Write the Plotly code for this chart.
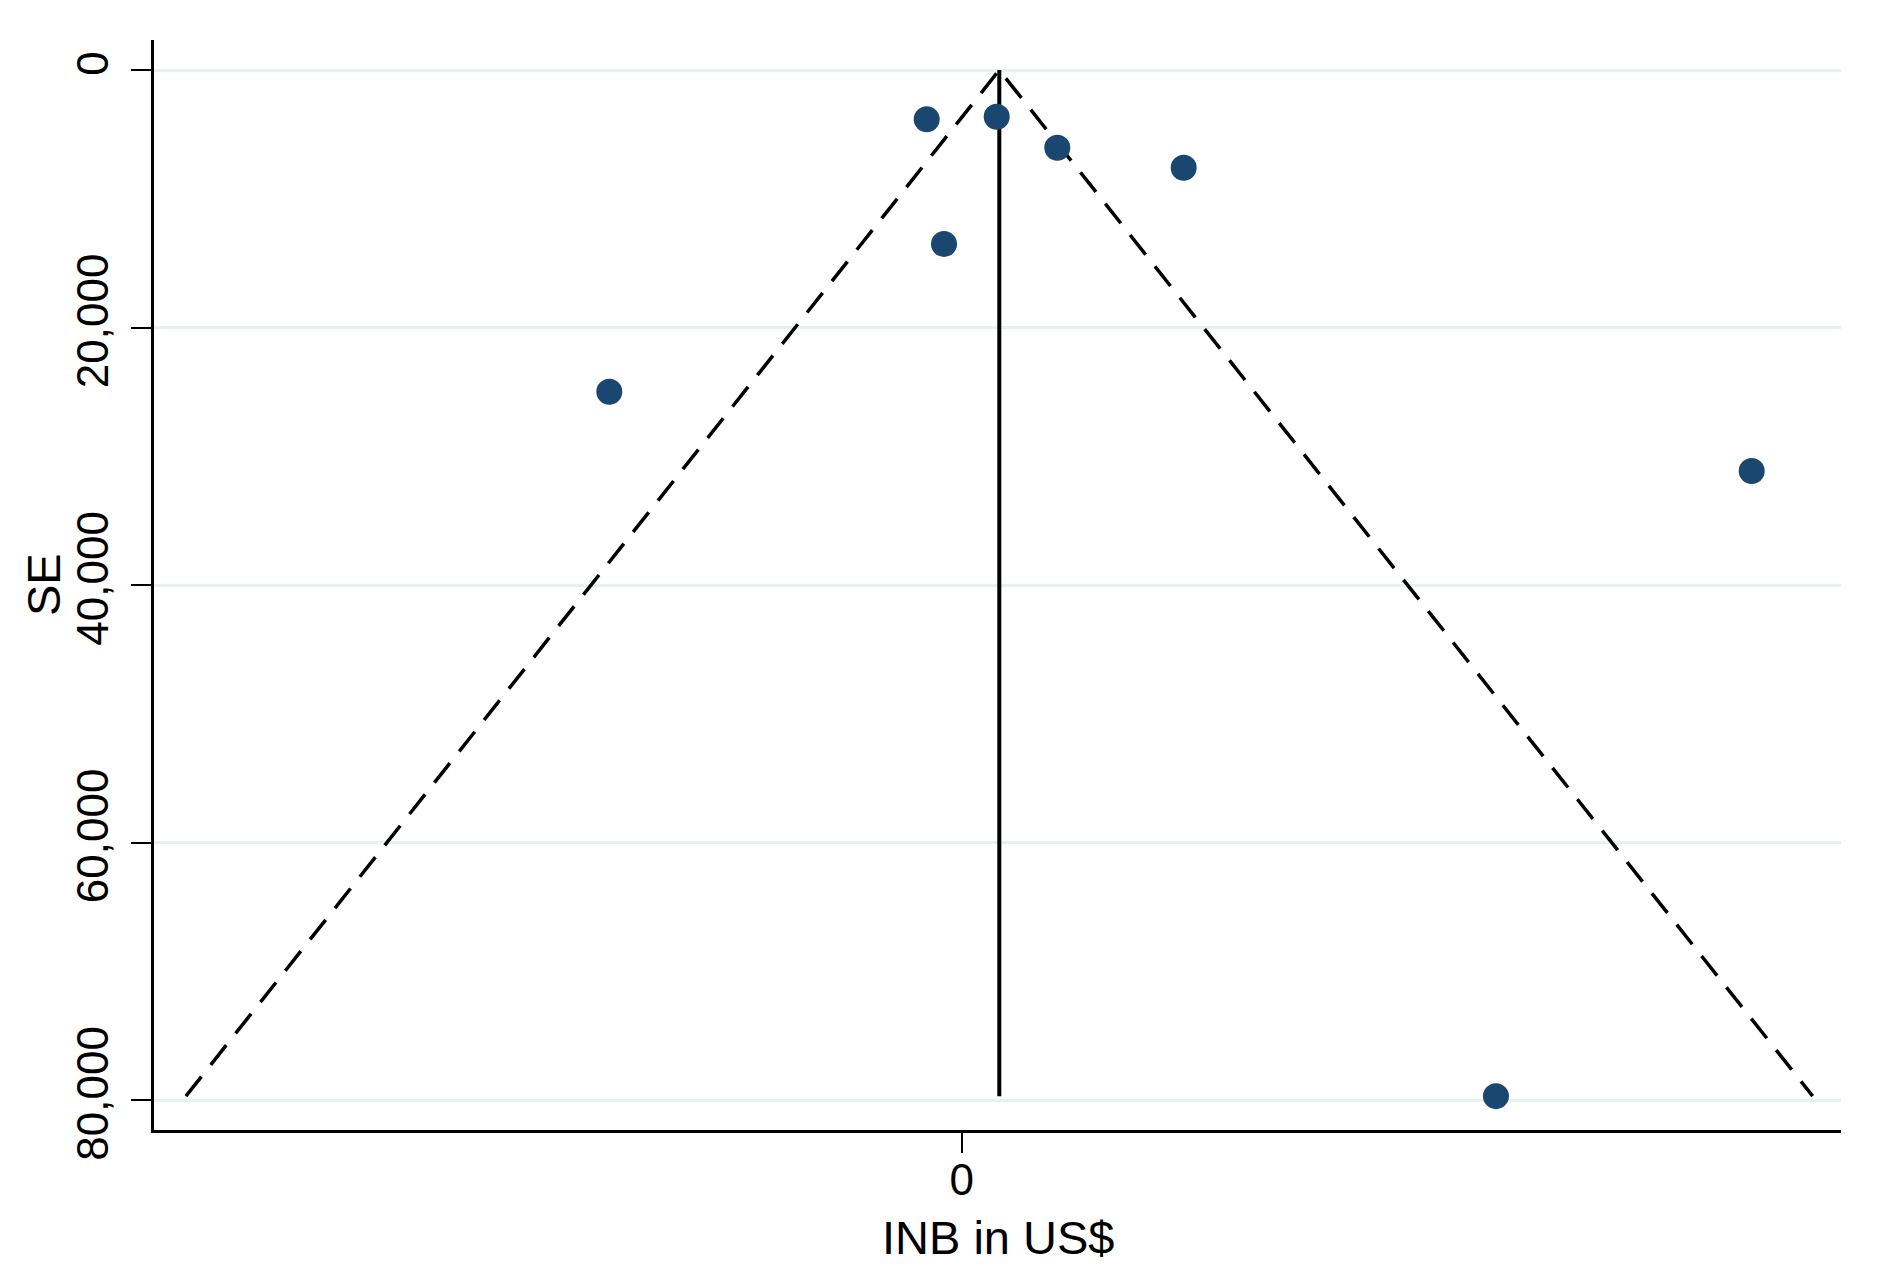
import plotly.graph_objects as go

# study estimates
inb = [-6720, 6720, 18360, 42630, -3400, -67680, 151720, 102600]
se = [3830, 3630, 6035, 7590, 13515, 24990, 31150, 79700]

pooled = 7220
se_max = max(se)
z = 1.96

y_ticks = [0, 20000, 40000, 60000, 80000]
y_labels = ["0", "20,000", "40,000", "60,000", "80,000"]

NAVY = "#1A476F"
GRID = "#E8F0F2"
FONT = "Liberation Sans, Arial, sans-serif"

fig = go.Figure()

# pseudo 95% limits
fig.add_trace(
    go.Scatter(
        x=[pooled - z * se_max, pooled, pooled + z * se_max],
        y=[se_max, 0, se_max],
        mode="lines",
        line=dict(color="black", width=3.5, dash="25px,15px"),
        hoverinfo="skip",
    )
)
# pooled estimate
fig.add_trace(
    go.Scatter(
        x=[pooled, pooled],
        y=[0, se_max],
        mode="lines",
        line=dict(color="black", width=4),
        hoverinfo="skip",
    )
)
fig.add_trace(
    go.Scatter(
        x=inb,
        y=se,
        mode="markers",
        marker=dict(color=NAVY, size=26, line=dict(width=0)),
        hovertemplate="INB: %{x:,.0f}<br>SE: %{y:,.0f}<extra></extra>",
    )
)

# page body adds 8px around the figure, margins compensate for it
fig.update_layout(
    width=1884,
    height=1287,
    showlegend=False,
    paper_bgcolor="white",
    plot_bgcolor="white",
    margin=dict(l=146, r=51, t=32, b=165),
    font=dict(family=FONT, color="black", size=44),
)
fig.update_xaxes(
    range=[-155120, 168870],
    tickvals=[0],
    ticktext=["0"],
    ticks="outside",
    ticklen=20,
    tickwidth=2,
    tickcolor="black",
    tickfont=dict(size=44),
    ticklabelstandoff=-11,
    showline=True,
    linecolor="black",
    linewidth=2.5,
    showgrid=False,
    zeroline=False,
)
fig.update_yaxes(
    range=[82330, -2330],
    tickvals=y_ticks,
    ticktext=y_labels,
    tickangle=-90,
    ticks="outside",
    ticklen=20,
    tickwidth=2,
    tickcolor="black",
    tickfont=dict(size=44),
    ticklabelstandoff=6,
    showline=True,
    linecolor="black",
    linewidth=2.5,
    showgrid=True,
    gridcolor=GRID,
    gridwidth=3,
    zeroline=False,
)

# axis titles
fig.add_annotation(
    text="INB in US$", xref="paper", yref="paper", x=0.5, y=0,
    yshift=-107, xanchor="center", yanchor="middle", showarrow=False,
    font=dict(size=47),
)
fig.add_annotation(
    text="SE", xref="paper", yref="paper", x=0, y=0.5,
    xshift=-111, xanchor="center", yanchor="middle", textangle=-90,
    showarrow=False, font=dict(size=47),
)

fig.write_html("out.html")
